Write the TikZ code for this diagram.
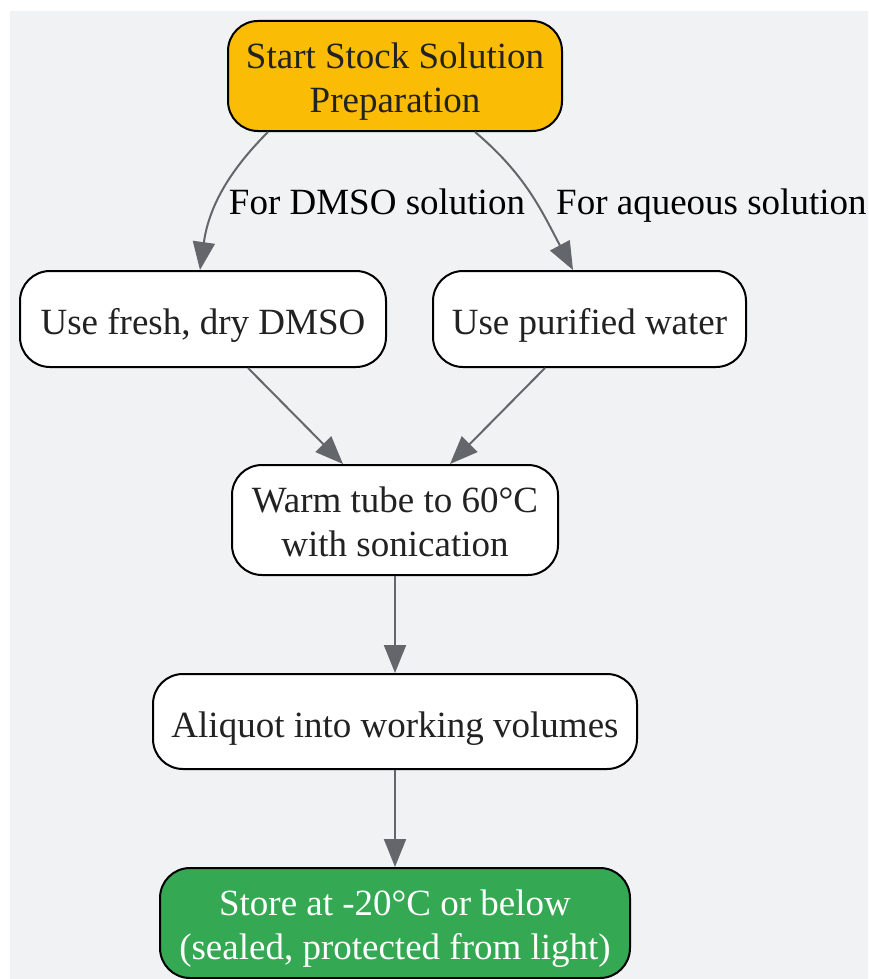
\documentclass[tikz,border=0pt]{standalone}
\usepackage{fontspec}
\setmainfont{Liberation Serif}
\usetikzlibrary{positioning}
\usetikzlibrary{arrows.meta}
\definecolor{bggray}{HTML}{F1F2F4}
\definecolor{startyellow}{HTML}{FBBC05}
\definecolor{storegreen}{HTML}{34A853}
\definecolor{edgegray}{HTML}{63666A}
\definecolor{inkgray}{HTML}{222222}

\begin{document}
\begin{tikzpicture}[x=1pt, y=1pt,
  box/.style={draw=black, line width=2pt, rounded corners=30pt, fill=white, text=inkgray,
    align=center, inner sep=0pt, font=\fontsize{37}{44}\selectfont,
    text height=39.4pt, text depth=8pt},
  twoline/.style={text height=81.4pt, text depth=8pt},
  flow/.style={draw=edgegray, line width=2pt, -{Triangle[length=28pt,width=22pt]}},
  lbl/.style={font=\fontsize{37}{44}\selectfont, text=black, inner sep=0pt}]
  % canvas with its margin
  \useasboundingbox (0,0) rectangle (868,-979);
  \fill[bggray] (10,-11) rectangle (868,-979);

  % steps
  \node[box, twoline, fill=startyellow, minimum width=334pt, minimum height=110pt] (start) at (395,-76) {Start Stock Solution\\Preparation};
  \node[box, minimum width=366pt, minimum height=96pt] (dmso) at (203,-319) {Use fresh, dry DMSO};
  \node[box, minimum width=313pt, minimum height=96pt] (water) at (589.5,-319) {Use purified water};
  \node[box, twoline, minimum width=326pt, minimum height=110pt] (warm) at (395,-520) {Warm tube to 60°C\\with sonication};
  \node[box, minimum width=484pt, minimum height=95pt, below=97pt of warm] (aliquot) {Aliquot into working volumes};
  \node[box, twoline, fill=storegreen, text=white, minimum width=470pt, minimum height=110pt, below=97pt of aliquot] (store) {Store at -20°C or below\\(sealed, protected from light)};

  % branch labels
  \node[lbl, anchor=base] (lbldmso) at (377,-214.3) {For DMSO solution};
  \node[lbl, anchor=base west] (lblwater) at (556,-214.3) {For aqueous solution};

  % connectors
  \draw[flow] ([xshift=-127pt]start.south) to[out=-135, in=82] ([xshift=-3pt]dmso.north);
  \draw[flow] ([xshift=80pt]start.south) to[out=-40, in=118] ([xshift=-16.5pt]water.north);
  \draw[flow] ([xshift=45pt]dmso.south) -- ([xshift=-52pt]warm.north);
  \draw[flow] ([xshift=-44.5pt]water.south) -- ([xshift=55pt]warm.north);
  \draw[flow] (warm) -- (aliquot);
  \draw[flow] (aliquot) -- (store);
\end{tikzpicture}
\end{document}
